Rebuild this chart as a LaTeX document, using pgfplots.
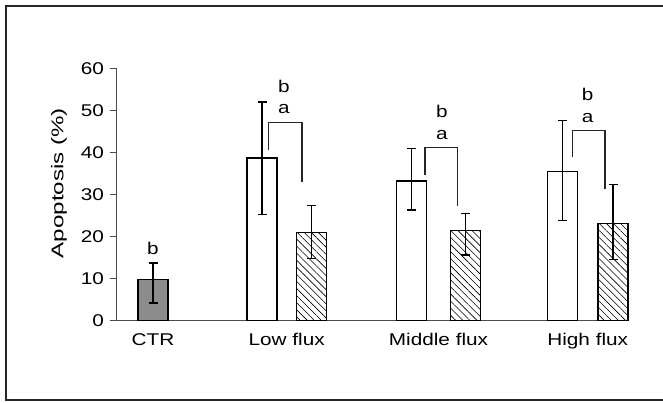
\documentclass[border=0pt]{standalone}
\usepackage{pgfplots}
\pgfplotsset{compat=1.18}
\usepackage{pgfplotstable}
\usepackage{fontspec}
\setmainfont{Liberation Sans}[FakeStretch=1.22]
\newfontfamily\labfont{Liberation Sans}[FakeStretch=1.42]
\usetikzlibrary{patterns.meta}

\pgfplotstableread{
x y ep em
36.3 9.84 3.86 5.64
}\ctr
\pgfplotstableread{
x y ep em
145.3 38.7 13.3 13.5
294.8 33.2 7.8 6.9
445.8 35.5 12.0 11.7
}\white
\pgfplotstableread{
x y ep em
194.8 21.0 6.4 6.2
348.8 21.4 4.0 5.8
496.3 23.2 9.1 8.6
}\hatched

\pgfplotsset{myerr/.style={
  error bars/y dir=both, error bars/y explicit,
  error bars/error bar style={black, line width=1.2pt},
  error bars/error mark options={black, line width=1.2pt, mark size=4.5pt, rotate=90}}}

\begin{document}
\fontsize{17}{20}\selectfont
\begin{tikzpicture}[x=1pt,y=1pt]
\useasboundingbox (0,0) rectangle (663,402);
\draw[line width=1.5pt, black!85] (680,396) -- (6,396) -- (6,2) -- (680,2);
\begin{axis}[
  at={(116.7pt,81.3pt)}, anchor=origin,
  scale only axis, width=511.3pt, height=252.4pt,
  xmin=0, xmax=511.3, ymin=0, ymax=60,
  axis x line=bottom, axis y line=left,
  axis line style={-, black!70, line width=1pt},
  every tick/.style={black!70, line width=1pt},
  ytick={0,10,...,60},
  tick align=outside,
  major tick length=7pt,
  xtick={36.3,170,321.8,471},
  xticklabels={CTR,Low flux,Middle flux,High flux},
  x tick style={draw=none},
  /pgf/number format/assume math mode=true,
  tick label style={font=\fontsize{17}{20}\selectfont},
  ylabel={Apoptosis (\%)},
  ylabel style={at={(axis description cs:-0.113,0.545)}, anchor=center, font=\labfont\fontsize{17}{20}\selectfont},
  clip=false,
  ybar, bar width=30, bar shift=0pt,
]
\addplot[fill={rgb,255:red,140;green,140;blue,140}, draw=black, line width=1.2pt, myerr]
  table[x=x,y=y,y error plus=ep,y error minus=em]{\ctr};
\addplot[fill=white, draw=black, line width=1.2pt, myerr]
  table[x=x,y=y,y error plus=ep,y error minus=em]{\white};
\addplot[pattern={Lines[angle=-45,distance=5pt,line width=0.6pt]}, pattern color=black, draw=black, line width=1.2pt, myerr]
  table[x=x,y=y,y error plus=ep,y error minus=em]{\hatched};

\draw[black!85, line width=1.2pt] (axis cs:151.6,40.6) -- (axis cs:151.6,47.2) -- (axis cs:185.3,47.2) -- (axis cs:185.3,33.0);
\draw[black!85, line width=1.2pt] (axis cs:308.3,34.6) -- (axis cs:308.3,41.1) -- (axis cs:340.6,41.1) -- (axis cs:340.6,27.3);
\draw[black!85, line width=1.2pt] (axis cs:455.6,38.8) -- (axis cs:455.6,45.3) -- (axis cs:488.3,45.3) -- (axis cs:488.3,31.3);
\node[inner sep=0pt] at (axis cs:36.3,17.3) {b};
\node[inner sep=0pt] at (axis cs:167.3,50.3) {a};
\node[inner sep=0pt] at (axis cs:167.3,55.6) {b};
\node[inner sep=0pt] at (axis cs:325.3,44.1) {a};
\node[inner sep=0pt] at (axis cs:325.3,49.7) {b};
\node[inner sep=0pt] at (axis cs:471,48.1) {a};
\node[inner sep=0pt] at (axis cs:471,53.8) {b};
\end{axis}
\end{tikzpicture}
\end{document}
